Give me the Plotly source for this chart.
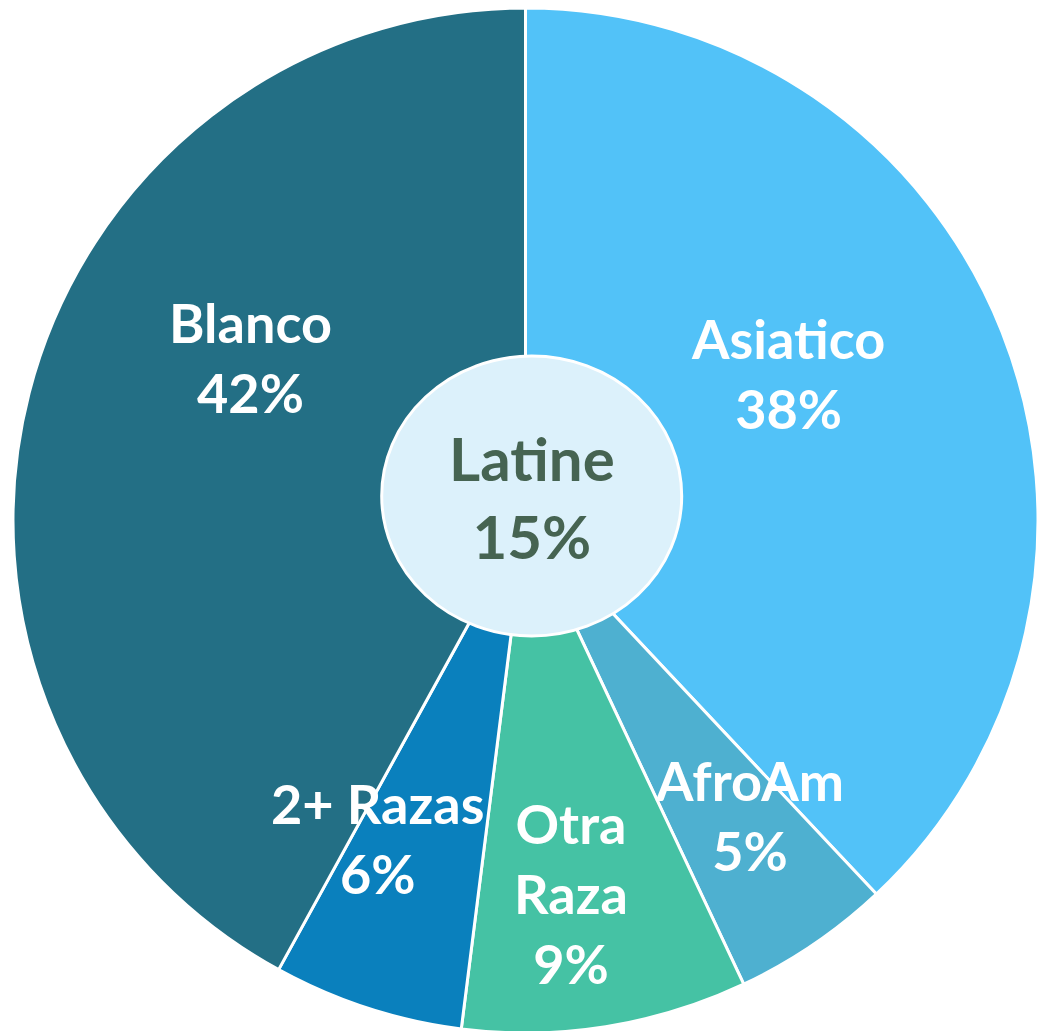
import plotly.graph_objects as go

# Data
categories = ["Asiatico", "AfroAm", "Otra Raza", "2+ Razas", "Blanco"]
values = [38, 5, 9, 6, 42]
label_texts = ["Asiatico<br>38%", "AfroAm<br>5%", "Otra<br>Raza<br>9%", "2+ Razas<br>6%", "Blanco<br>42%"]
center_label = "Latine"
center_value = 15

# Styles
colors = ["#52C2F8", "#4EB0D0", "#45C2A4", "#0A80BD", "#236F85"]
W, H = 1051, 1041
# label anchor positions in pixels (x, y from top)
label_pos = [(788, 373), (749, 815), (571, 893), (377, 838), (250, 358)]

fig = go.Figure(go.Pie(
    labels=categories,
    values=values,
    sort=False,
    direction="clockwise",
    rotation=0,
    marker=dict(colors=colors, line=dict(color="white", width=3)),
    textinfo="none",
    hoverinfo="label+percent",
    showlegend=False,
    domain=dict(x=[13 / W, 1038 / W], y=[1 - 1033 / H, 1 - 8 / H]),
))

annotations = []
for txt, (px, py) in zip(label_texts, label_pos):
    annotations.append(dict(
        x=px / W, y=1 - py / H, xref="paper", yref="paper",
        text=txt, showarrow=False, xanchor="center", yanchor="middle",
        font=dict(family="Lato", size=54, color="white", weight="bold"),
    ))

annotations.append(dict(
    x=532 / W, y=1 - 497 / H, xref="paper", yref="paper",
    text=f"{center_label}<br>{center_value}%", showarrow=False,
    xanchor="center", yanchor="middle",
    font=dict(family="Lato", size=60, color="#466452", weight="bold"),
))

fig.update_layout(
    width=W, height=H,
    margin=dict(l=0, r=0, t=0, b=0),
    paper_bgcolor="white",
    plot_bgcolor="white",
    shapes=[dict(
        type="circle", xref="paper", yref="paper",
        x0=381.7 / W, x1=681.7 / W, y0=1 - 636 / H, y1=1 - 356 / H,
        fillcolor="#DCF1FB", line=dict(color="white", width=3), layer="above",
    )],
    annotations=annotations,
)

fig.write_html(
    "out.html",
    config={"displayModeBar": False},
    post_script="document.body.style.margin='0';document.documentElement.style.overflow='hidden';document.body.style.overflow='hidden';",
)
